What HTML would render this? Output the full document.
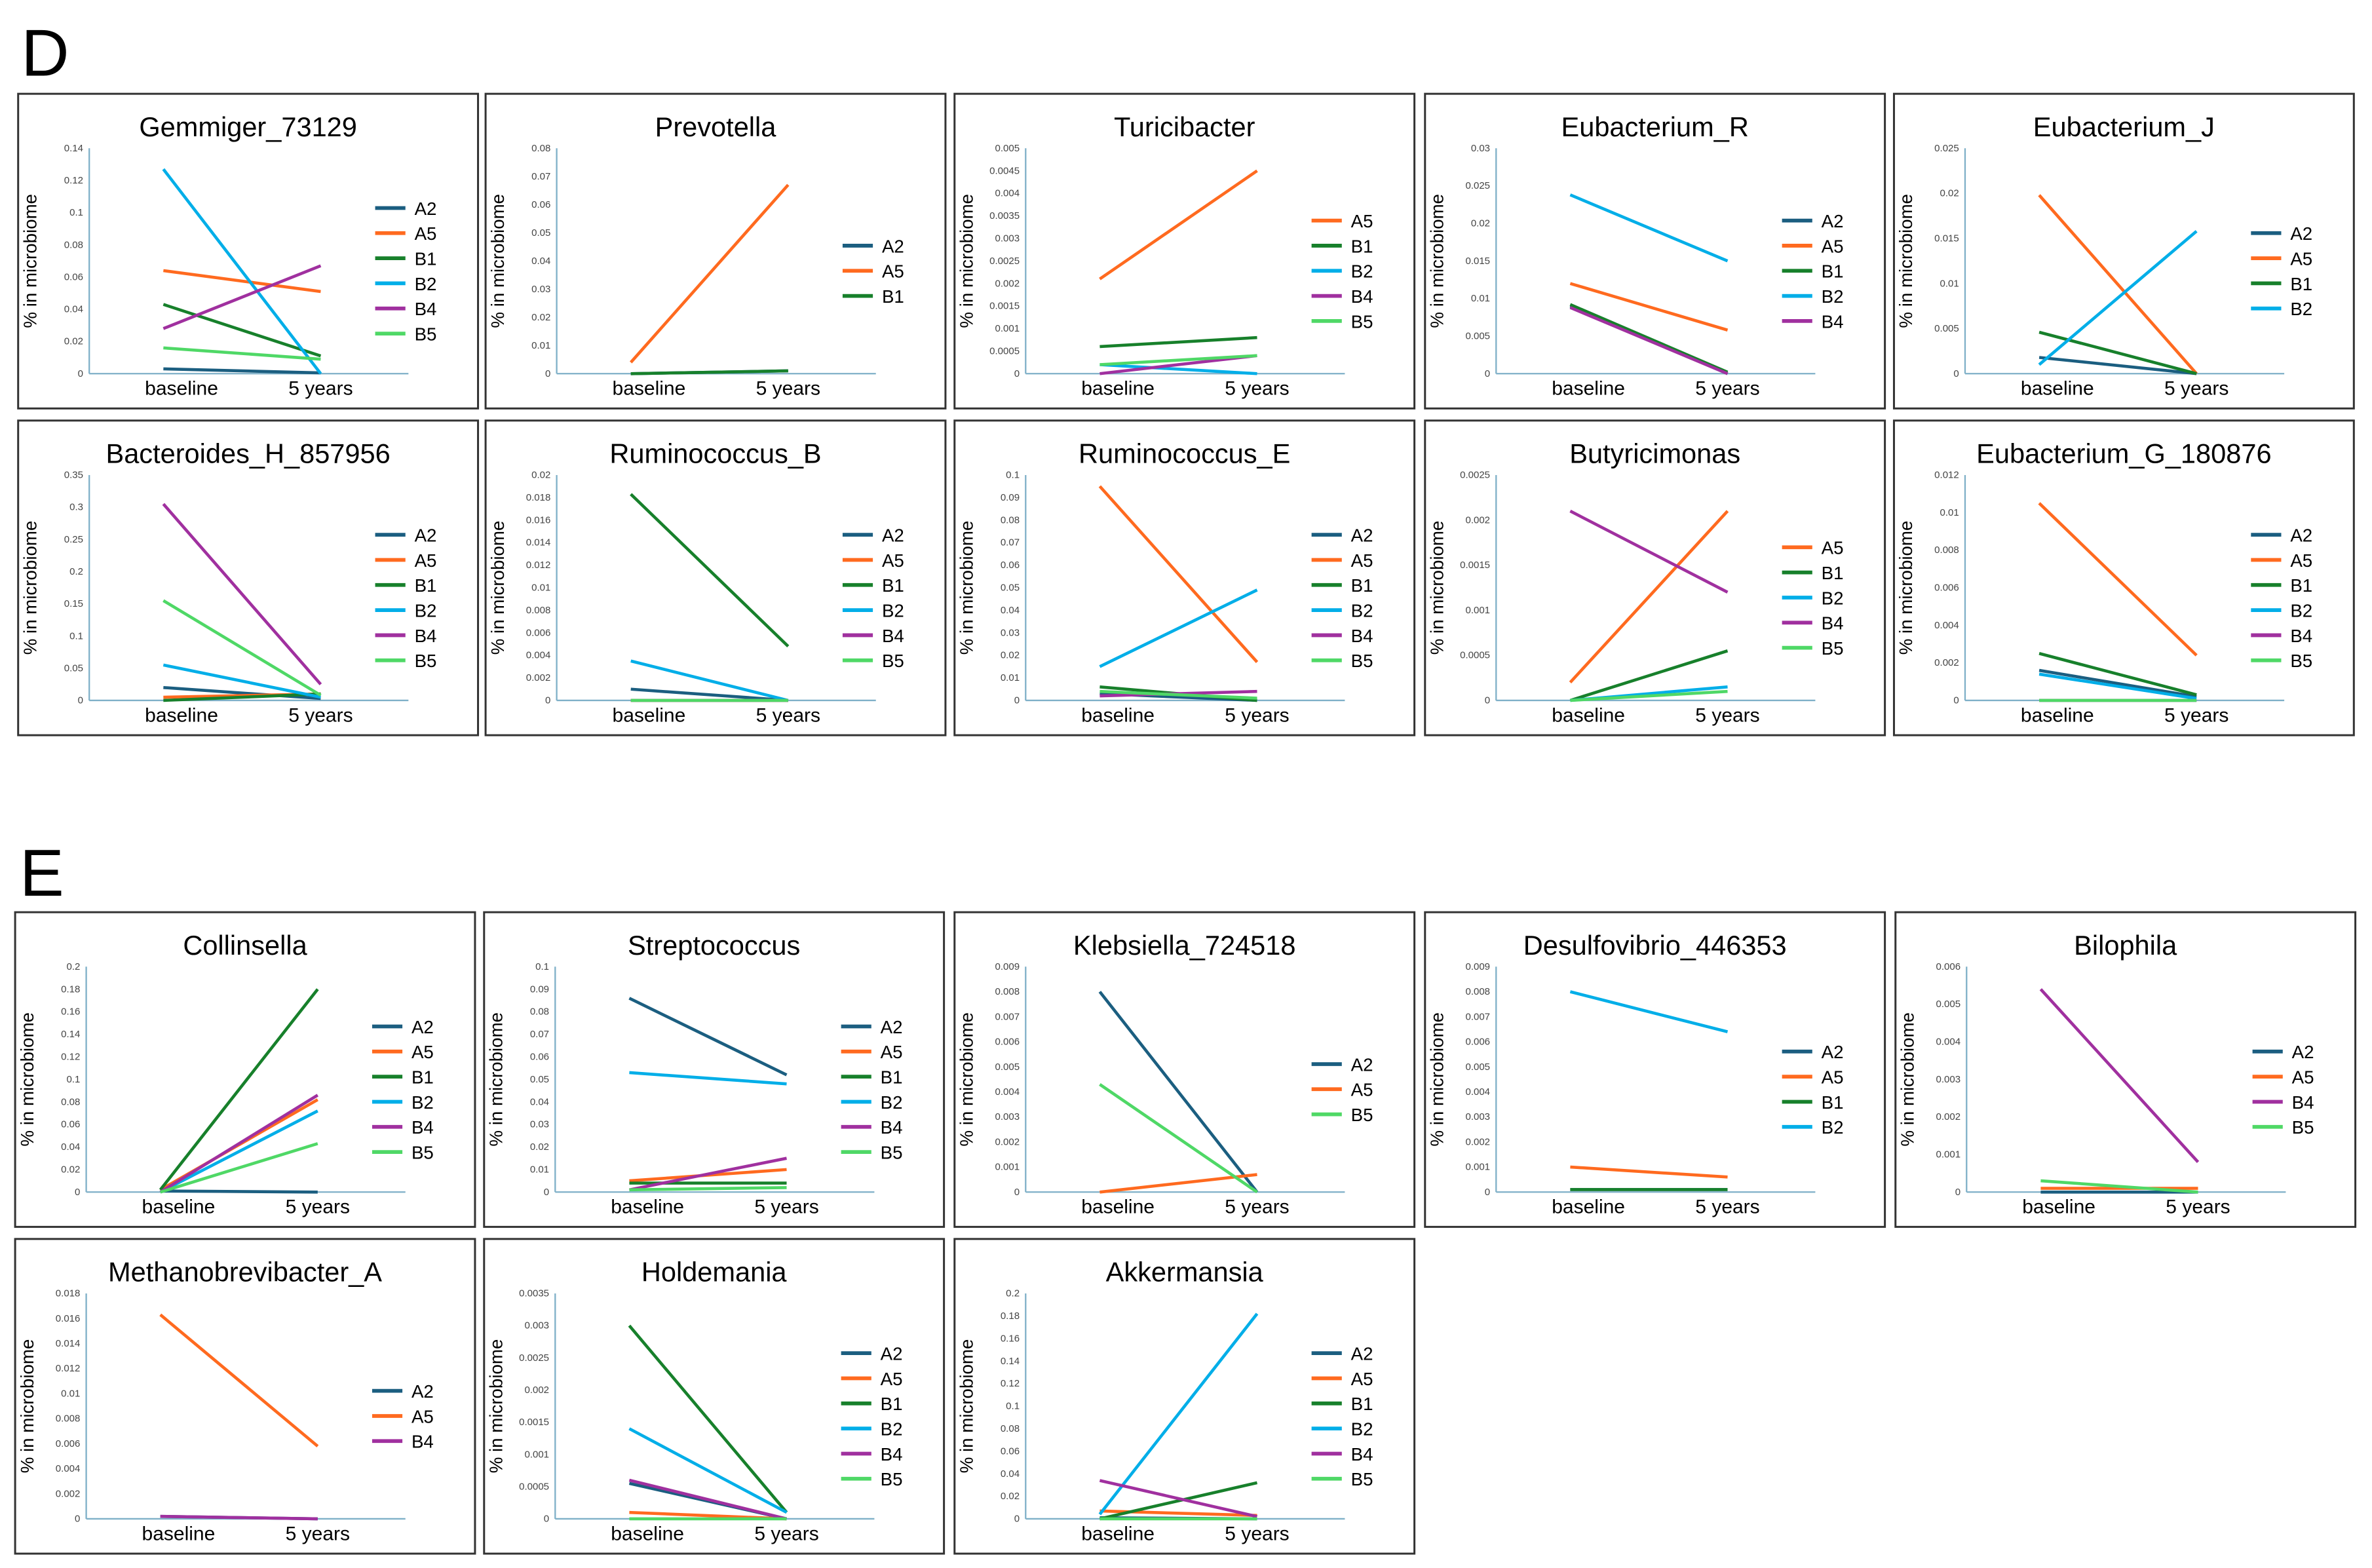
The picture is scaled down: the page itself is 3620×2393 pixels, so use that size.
<!DOCTYPE html>
<html><head><meta charset="utf-8">
<style>
html,body{margin:0;padding:0;background:#fff;}
svg{display:block;}
text{font-family:"Liberation Sans",sans-serif;}
</style></head>
<body>
<svg id="fig" width="3620" height="2393" viewBox="0 0 1568 1036.5" preserveAspectRatio="none" xmlns="http://www.w3.org/2000/svg">
<rect width="1568" height="1036.5" fill="#fff"/>
<text x="14" y="50" font-size="44">D</text>
<text x="13" y="592" font-size="44">E</text>
</svg>
<script>
const titles = ["Gemmiger_73129","Prevotella","Turicibacter","Eubacterium_R","Eubacterium_J",
"Bacteroides_H_857956","Ruminococcus_B","Ruminococcus_E","Butyricimonas","Eubacterium_G_180876",
"Collinsella","Streptococcus","Klebsiella_724518","Desulfovibrio_446353","Bilophila",
"Methanobrevibacter_A","Holdemania","Akkermansia"];
const yMax = [0.14,0.08,0.005,0.03,0.025, 0.35,0.02,0.1,0.0025,0.012, 0.2,0.1,0.009,0.009,0.006, 0.018,0.0035,0.2];
const yStep = [0.02,0.01,0.0005,0.005,0.005, 0.05,0.002,0.01,0.0005,0.002, 0.02,0.01,0.001,0.001,0.001, 0.002,0.0005,0.02];
const seriesNames = [
["A2","A5","B1","B2","B4","B5"],["A2","A5","B1"],["A5","B1","B2","B4","B5"],["A2","A5","B1","B2","B4"],["A2","A5","B1","B2"],
["A2","A5","B1","B2","B4","B5"],["A2","A5","B1","B2","B4","B5"],["A2","A5","B1","B2","B4","B5"],["A5","B1","B2","B4","B5"],["A2","A5","B1","B2","B4","B5"],
["A2","A5","B1","B2","B4","B5"],["A2","A5","B1","B2","B4","B5"],["A2","A5","B5"],["A2","A5","B1","B2"],["A2","A5","B4","B5"],
["A2","A5","B4"],["A2","A5","B1","B2","B4","B5"],["A2","A5","B1","B2","B4","B5"]];
const baselineVals = [
[0.003,0.064,0.043,0.127,0.028,0.016],[0,0.004,0],[0.0021,0.0006,0.0002,0,0.0002],[0.009,0.012,0.0092,0.0238,0.0088],[0.0018,0.0198,0.0046,0.001],
[0.02,0.005,0,0.055,0.305,0.155],[0.001,0,0.0183,0.0035,0,0],[0.003,0.095,0.006,0.015,0.002,0.004],[0.0002,0,0,0.0021,0],[0.0016,0.0105,0.0025,0.0014,0,0],
[0.001,0.002,0.002,0,0,0],[0.086,0.005,0.004,0.053,0.001,0.001],[0.008,0,0.0043],[0.0001,0.001,0.0001,0.008],[0,0.0001,0.0054,0.0003],
[0.0002,0.0163,0.0002],[0.00055,0.0001,0.003,0.0014,0.0006,0],[0.001,0.007,0,0.004,0.034,0]];
const fiveYearVals = [
[0.0005,0.051,0.011,0,0.067,0.009],[0.001,0.067,0.001],[0.0045,0.0008,0,0.0004,0.0004],[0,0.0058,0.0002,0.015,0],[0,0,0,0.0158],
[0.003,0.01,0.01,0.005,0.025,0.008],[0,0,0.0048,0,0,0],[0,0.017,0,0.049,0.004,0.001],[0.0021,0.00055,0.00015,0.0012,0.0001],[0.0002,0.0024,0.0003,0.0001,0,0],
[0,0.082,0.18,0.072,0.086,0.043],[0.052,0.01,0.004,0.048,0.015,0.002],[0,0.0007,0],[0.0001,0.0006,0.0001,0.0064],[0,0.0001,0.0008,0],
[0,0.0058,0],[0,0,0.0001,0.0001,0,0],[0,0.003,0.032,0.182,0.002,0]];
const colors = {A2:"#1b5e80",A5:"#ff6a1f",B1:"#17802b",B2:"#00aee8",B4:"#a0309f",B5:"#4fd866"};
const panelX = [[12,321,631,942,1252],[12,321,631,942,1252],[10,320,631,942,1253],[10,320,631]];
const panelY = [62,278,603,819];
const svg = document.getElementById('fig');
const NS = "http://www.w3.org/2000/svg";
function mk(tag, attrs, parent){const e=document.createElementNS(NS,tag);for(const k in attrs)e.setAttribute(k,attrs[k]);(parent||svg).appendChild(e);return e;}
function fmt(v){return parseFloat(v.toFixed(6)).toString();}
let idx=0;
panelX.forEach((row,r)=>{row.forEach(px=>{
  const i=idx++; const py=panelY[r];
  const g=mk('g',{});
  
  
  const box=mk('rect',{x:px,y:py,width:304,height:208,fill:'#fff',stroke:'#333','stroke-width':1.3},g);
  
  
  const t=mk('text',{x:px+152,y:py+28,'font-size':18,'text-anchor':'middle'},g); t.textContent=titles[i];
  
  
  const x0=px+47, yTop=py+36, yBot=py+185, xEnd=px+258;
  const ys=v=>yBot-(v/yMax[i])*(yBot-yTop);
  const xb=px+96, x5=px+200;
  const ya=mk('line',{x1:x0,y1:yTop,x2:x0,y2:yBot,stroke:'#7fb0c8','stroke-width':1},g);
  
  
  const xa=mk('line',{x1:x0,y1:yBot,x2:xEnd,y2:yBot,stroke:'#7fb0c8','stroke-width':1},g);
  
  
  const n=Math.round(yMax[i]/yStep[i]);
  for(let k=0;k<=n;k++){const v=k*yStep[i];
    const tl=mk('text',{x:x0-4,y:ys(v)+2,'font-size':6.5,'text-anchor':'end',fill:'#444'},g); tl.textContent=fmt(v);
    
    }
  const yl=mk('text',{x:0,y:0,'font-size':12,'text-anchor':'middle',transform:`translate(${px+12},${(yTop+yBot)/2}) rotate(-90)`},g);
  yl.textContent='% in microbiome';
  
  
  const bl=mk('text',{x:px+108,y:py+199,'font-size':13,'text-anchor':'middle'},g); bl.textContent='baseline';
  
  
  const fl=mk('text',{x:px+200,y:py+199,'font-size':13,'text-anchor':'middle'},g); fl.textContent='5 years';
  
  
  const names=seriesNames[i];
  const ls=py+117-(names.length-1)*16.6/2;
  names.forEach((s,j)=>{
    const ln=mk('line',{x1:xb,y1:ys(baselineVals[i][j]),x2:x5,y2:ys(fiveYearVals[i][j]),stroke:colors[s],'stroke-width':2},g);
    
    
    const ly=ls+j*16.6;
    const lm=mk('line',{x1:px+236,y1:ly,x2:px+256,y2:ly,stroke:colors[s],'stroke-width':2.5},g);
    
    
    const lt=mk('text',{x:px+262,y:ly+4.5,'font-size':12},g); lt.textContent=s;
    
    
  });
});});
</script>
</body></html>
